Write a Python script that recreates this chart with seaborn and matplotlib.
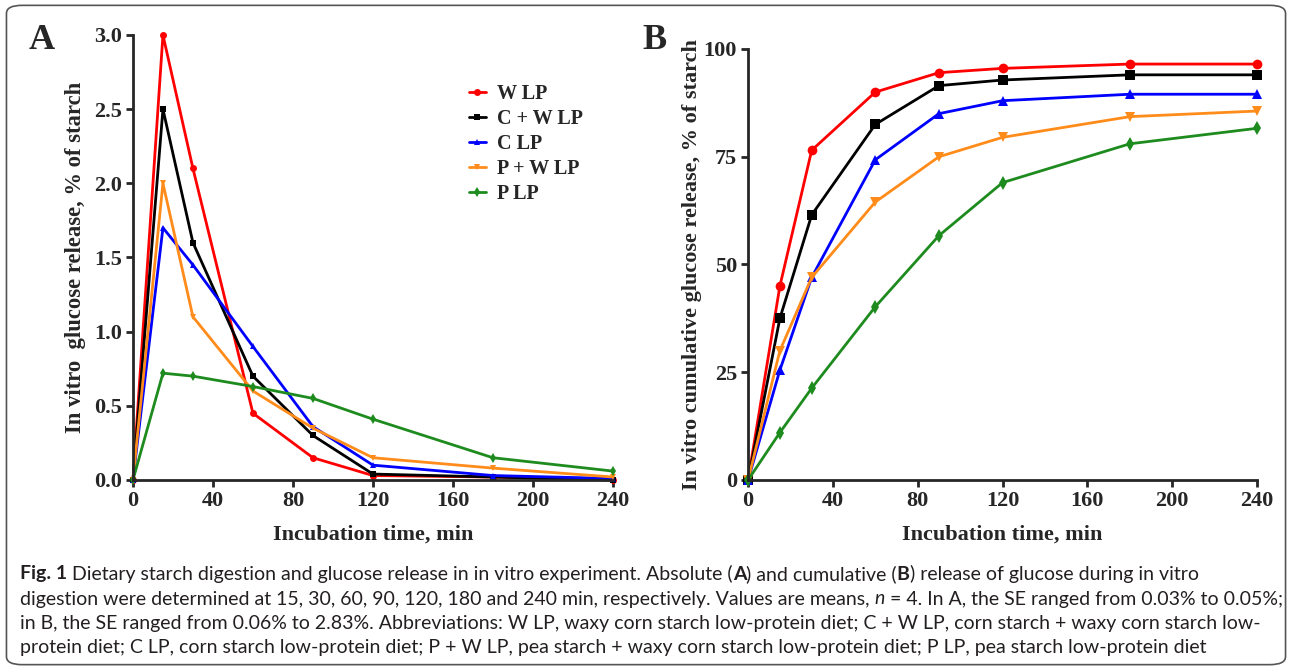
import numpy as np
import pandas as pd
import matplotlib
matplotlib.use("Agg")
import matplotlib.pyplot as plt
from matplotlib.patches import FancyBboxPatch
import seaborn as sns

# ---- data ----
TIME = [0, 15, 30, 60, 90, 120, 180, 240]
DIETS = ["W LP", "C + W LP", "C LP", "P + W LP", "P LP"]

abs_w = [0, 3.00, 2.10, 0.45, 0.15, 0.03, 0.02, 0.00]
abs_cw = [0, 2.50, 1.60, 0.70, 0.30, 0.04, 0.02, 0.00]
abs_c = [0, 1.70, 1.45, 0.90, 0.36, 0.10, 0.03, 0.01]
abs_pw = [0, 2.00, 1.10, 0.60, 0.35, 0.15, 0.08, 0.02]
abs_p = [0, 0.72, 0.70, 0.63, 0.55, 0.41, 0.15, 0.06]

cum_w = [0, 45.0, 76.5, 90.0, 94.5, 95.5, 96.5, 96.5]
cum_cw = [0, 37.5, 61.5, 82.5, 91.5, 92.8, 94.0, 94.0]
cum_c = [0, 25.5, 47.0, 74.3, 85.0, 88.0, 89.5, 89.5]
cum_pw = [0, 30.0, 47.0, 64.5, 75.0, 79.5, 84.3, 85.6]
cum_p = [0, 11.0, 21.3, 40.2, 56.7, 69.0, 78.0, 81.6]

COLORS = {"W LP": "#FF0000", "C + W LP": "#000000", "C LP": "#0000FF",
          "P + W LP": "#FF8C1A", "P LP": "#1E8B1E"}
MARKERS = {"W LP": "o", "C + W LP": "s", "C LP": "^", "P + W LP": "v", "P LP": "d"}


def long_df(series):
    rows = []
    for diet, vals in zip(DIETS, series):
        for t, v in zip(TIME, vals):
            rows.append({"time": t, "value": v, "diet": diet})
    return pd.DataFrame(rows)


df_abs = long_df([abs_w, abs_cw, abs_c, abs_pw, abs_p])
df_cum = long_df([cum_w, cum_cw, cum_c, cum_pw, cum_p])

sns.set_style("ticks")
plt.rcParams["font.family"] = ["Liberation Serif", "DejaVu Serif"]

fig = plt.figure(figsize=(12.92, 6.70), dpi=100)
axA = fig.add_axes([0.1029, 0.2836, 0.3715, 0.6642])
axB = fig.add_axes([0.5790, 0.2836, 0.3940, 0.6433])

sns.lineplot(data=df_abs, x="time", y="value", hue="diet", style="diet",
             hue_order=DIETS, style_order=DIETS, palette=COLORS, markers=MARKERS,
             dashes=False, linewidth=2, markersize=5, markeredgewidth=0, ax=axA)
sns.lineplot(data=df_cum, x="time", y="value", hue="diet", style="diet",
             hue_order=DIETS, style_order=DIETS, palette=COLORS, markers=MARKERS,
             dashes=False, linewidth=2, markersize=7, markeredgewidth=0,
             legend=False, ax=axB)

for ax in (axA, axB):
    sns.despine(ax=ax)
    ax.spines["left"].set_linewidth(2)
    ax.spines["bottom"].set_linewidth(2)
    ax.tick_params(width=2, length=5, direction="out", labelsize=16, pad=3)
    ax.set_xlim(0, 240)
    ax.set_xticks(np.arange(0, 241, 40))
    for lab in ax.get_xticklabels() + ax.get_yticklabels():
        lab.set_fontweight("bold")
    ax.set_xlabel("Incubation time, min", fontsize=16, fontweight="bold", labelpad=10)
    for ln in ax.lines:
        ln.set_clip_on(False)

axA.set_ylim(0, 3.0)
axA.set_yticks(np.arange(0, 3.01, 0.5))
axA.set_yticklabels([f"{v:.1f}" for v in np.arange(0, 3.01, 0.5)])
axA.set_ylabel("In vitro  glucose release, % of starch", fontsize=16.3,
               fontweight="bold", labelpad=6)

axB.set_ylim(0, 100)
axB.set_yticks([0, 25, 50, 75, 100])
axB.set_yticklabels(["0", "25", "50", "75", "100"])
axB.set_ylabel("In vitro cumulative glucose release, % of starch", fontsize=16,
               fontweight="bold", labelpad=1)

leg = axA.legend(loc="upper right", bbox_to_anchor=(0.975, 0.93), frameon=False,
                 prop={"size": 14.5, "weight": "bold"}, handlelength=0.85,
                 handletextpad=0.55, labelspacing=0.25)
for h in leg.legend_handles:
    h.set_markersize(5)

fig.text(0.022, 0.94, "A", fontsize=26, fontweight="bold", va="center")
fig.text(0.497, 0.94, "B", fontsize=26, fontweight="bold", va="center")

# border
fig.patches.append(FancyBboxPatch((0.005, 0.008), 0.99, 0.984,
                                  boxstyle="round,pad=0,rounding_size=0.012",
                                  transform=fig.transFigure, fill=False,
                                  edgecolor="#555555", linewidth=1.2))

# caption with mixed bold segments
CAP_FONT = ["Lato", "DejaVu Sans"]
caption = [
    [("Fig. 1", True), (" Dietary starch digestion and glucose release in in vitro experiment. Absolute (", False),
     ("A", True), (") and cumulative (", False), ("B", True), (") release of glucose during in vitro", False)],
    [("digestion were determined at 15, 30, 60, 90, 120, 180 and 240 min, respectively. Values are means, ", False),
     ("n", "italic"), (" = 4. In A, the SE ranged from 0.03% to 0.05%;", False)],
    [("in B, the SE ranged from 0.06% to 2.83%. Abbreviations: W LP, waxy corn starch low-protein diet; C + W LP, corn starch + waxy corn starch low-", False)],
    [("protein diet; C LP, corn starch low-protein diet; P + W LP, pea starch + waxy corn starch low-protein diet; P LP, pea starch low-protein diet", False)],
]
targets = [1243, 1255, 1256, 1208]
renderer = fig.canvas.get_renderer()


def draw_line(segs, yp, size):
    x = 20
    texts = []
    for txt, style in segs:
        t = fig.text(x / 1292, 1 - yp / 670, txt, family=CAP_FONT, fontsize=size,
                     fontweight="bold" if style is True else "normal",
                     fontstyle="italic" if style == "italic" else "normal",
                     va="center", ha="left", color="#231F20")
        x += t.get_window_extent(renderer).width
        texts.append(t)
    return texts, x - 20


# one caption size so that no line runs past its width in the print
scales = []
for segs, tw in zip(caption, targets):
    probe, w = draw_line(segs, 600, 12)
    for t in probe:
        t.remove()
    scales.append(tw / w)
cap_size = 12 * min(scales)

for segs, yp in zip(caption, [574, 599, 624, 648]):
    draw_line(segs, yp, cap_size)

fig.savefig("out.png", dpi=100)
